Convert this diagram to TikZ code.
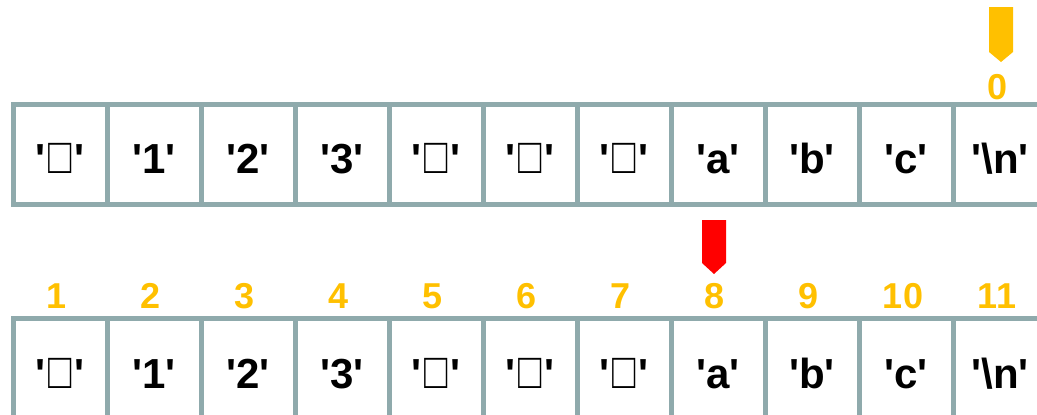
\documentclass[tikz,border=0pt]{standalone}
\usepackage{fontspec}
\usepackage{graphicx}
\newfontfamily\cellfont{Liberation Sans}[Ligatures=TeXOff]
\definecolor{gridc}{RGB}{143,170,172}
\definecolor{gold}{RGB}{255,192,0}
\definecolor{ptrred}{RGB}{255,0,0}
\tikzset{
  cellbox/.style={draw=gridc, line width=5pt, fill=white},
  celltxt/.style={anchor=base, font=\cellfont\bfseries\fontsize{42}{42}\selectfont, inner sep=0pt},
  idxtxt/.style={anchor=base, text=gold, font=\cellfont\bfseries\fontsize{36}{36}\selectfont, inner sep=0pt}
}
\newcommand{\sq}{\kern3pt{\cellfont\mdseries\scalebox{0.92}[1.2]{□}}\kern3pt}
\begin{document}
\begin{tikzpicture}[x=1pt,y=-1pt]
\useasboundingbox (0,0) rectangle (1037,415);
\clip (0,0) rectangle (1037,415);
\foreach \i/\t [count=\k from 0] in {1/'\sq',2/'1',3/'2',4/'3',5/'\sq',6/'\sq',7/'\sq',8/'a',9/'b',10/'c',11/'\textbackslash n'}{
  \pgfmathsetmacro\xl{13+94*\k}
  \pgfmathsetmacro\xc{\xl+47}
  \draw[cellbox] (\xl,104) rectangle ++(94,100);
  \node[celltxt] (t\i) at (\xc,173) {\t};
  \draw[cellbox] (\xl,318) rectangle ++(94,100);
  \node[celltxt] (b\i) at (\xc,388) {\t};
  \node[idxtxt] (n\i) at (\xc-3,308) {\i};
}
\node[idxtxt] (z0) at (998,99) {0};
\fill[gold] (989,7) -- (1013,7) -- (1013,52) -- (1001,62) -- (989,52) -- cycle;
\fill[ptrred] (702,220) -- (726,220) -- (726,263) -- (714,274) -- (702,263) -- cycle;
\end{tikzpicture}
\end{document}
